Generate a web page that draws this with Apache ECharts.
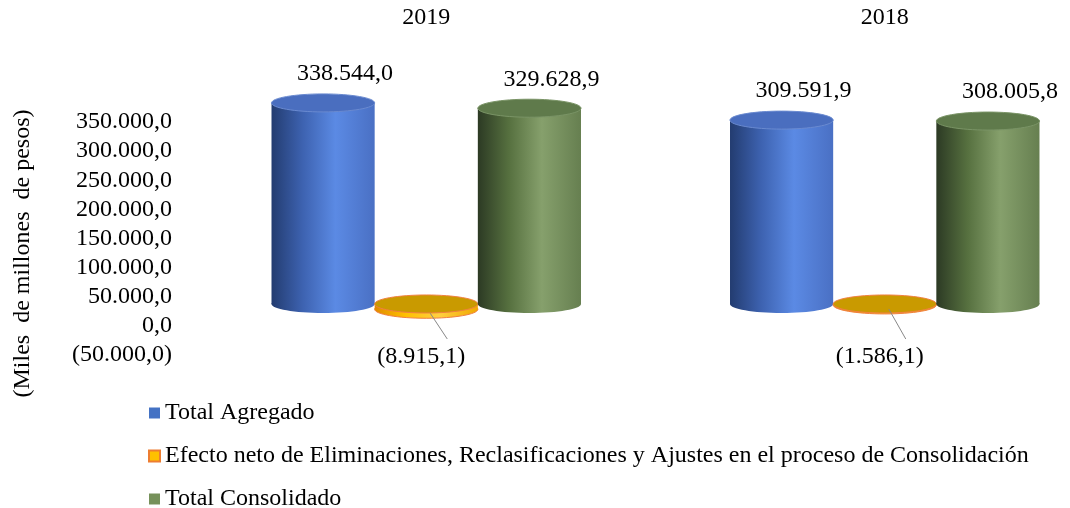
<!DOCTYPE html>
<html>
<head>
<meta charset="utf-8">
<script src="https://cdn.jsdelivr.net/npm/echarts@6/dist/echarts.min.js"></script>
<style>
  html, body { margin: 0; padding: 0; background: #fff; }
  #chart { width: 1070px; height: 508px; }
</style>
</head>
<body>
<div id="chart"></div>
<script>
// datos del gráfico
const categories = ['2019', '2018']
const totalAgregado = [338544.0, 309591.9]
const efectoNeto = [-8915.1, -1586.1]
const totalConsolidado = [329628.9, 308005.8]
const seriesNames = [
  'Total Agregado',
  'Efecto neto de Eliminaciones, Reclasificaciones y Ajustes en el proceso de Consolidación',
  'Total Consolidado'
]
const yTicks = { min: -50000, max: 350000, interval: 50000 }

const FONT = 'Liberation Serif'
const FS = 24

// formato es-CO: 338.544,0 y negativos entre paréntesis
function fmt(v) {
  const parts = Math.abs(v).toFixed(1).split('.')
  const ent = parts[0].replace(/\B(?=(\d{3})+(?!\d))/g, '.')
  const txt = ent + ',' + parts[1]
  return v < 0 ? '(' + txt + ')' : txt
}

// colores de cada cilindro
const palettes = [
  { side: ['#233c70', '#3d62b0', '#5b8ae4', '#4a70c4'], top: '#4a6ebf', topStroke: '#6a8ad0', legend: '#4472C4' },
  { side: ['#e08a00', '#ffc000', '#ffd040', '#f0a800'], top: '#c99a00', topStroke: '#f08040', legend: '#FFC000' },
  { side: ['#2c3a24', '#56703f', '#86a06c', '#667f50'], top: '#5f7a4b', topStroke: '#7a9466', legend: '#76915A' }
]

function sideGradient(cols) {
  return new echarts.graphic.LinearGradient(0, 0, 1, 0, [
    { offset: 0, color: cols[0] },
    { offset: 0.3, color: cols[1] },
    { offset: 0.62, color: cols[2] },
    { offset: 1, color: cols[3] }
  ])
}

function makeRender(idx) {
  const pal = palettes[idx]
  return function (params, api) {
    const cat = api.value(0)
    const v = api.value(1)
    const band = api.size([1, 0])[0]
    const w = band * 0.225
    const base = api.coord([cat, 0])
    const cx = base[0] + (idx - 1) * w
    const y0 = base[1]
    const y1 = api.coord([cat, v])[1]
    const top = Math.min(y0, y1)
    const bottom = Math.max(y0, y1)
    const ry = 9
    const fill = sideGradient(pal.side)
    const children = [
      { type: 'ellipse', shape: { cx: cx, cy: bottom, rx: w / 2, ry: ry }, style: { fill: fill, stroke: idx === 1 ? '#f08040' : null, lineWidth: 1 } },
      { type: 'rect', shape: { x: cx - w / 2, y: top, width: w, height: bottom - top }, style: { fill: fill } },
      { type: 'ellipse', shape: { cx: cx, cy: top, rx: w / 2, ry: ry }, style: { fill: pal.top, stroke: pal.topStroke, lineWidth: 1 } }
    ]
    if (v >= 0) {
      children.push({
        type: 'text',
        style: { x: cx + 22, y: y1 - 29, text: fmt(v), fill: '#000', font: FS + 'px ' + FONT, align: 'center', verticalAlign: 'middle' }
      })
    } else {
      children.push({
        type: 'line',
        shape: { x1: cx + 4, y1: bottom + 4, x2: cx + 21, y2: y0 + 35 },
        style: { stroke: '#888', lineWidth: 1 }
      })
      children.push({
        type: 'text',
        style: { x: cx - 5, y: y0 + 53, text: fmt(v), fill: '#000', font: FS + 'px ' + FONT, align: 'center', verticalAlign: 'middle' }
      })
    }
    return { type: 'group', children: children }
  }
}

const seriesData = [totalAgregado, efectoNeto, totalConsolidado]

const chart = echarts.init(document.getElementById('chart'), null, { renderer: 'canvas' })
chart.setOption({
  animation: false,
  backgroundColor: '#fff',
  textStyle: { fontFamily: FONT },
  grid: { left: 197, top: 122, width: 917, height: 233, containLabel: false, outerBoundsMode: 'none' },
  legend: {
    orient: 'vertical',
    left: 143,
    top: 396,
    height: 140,
    itemWidth: 11,
    itemHeight: 11,
    itemGap: 19,
    icon: 'rect',
    textStyle: { fontSize: FS, fontFamily: FONT, color: '#000' },
    data: seriesNames
  },
  xAxis: {
    type: 'category',
    position: 'top',
    data: categories,
    axisLine: { show: false },
    axisTick: { show: false },
    axisLabel: { fontSize: FS, fontFamily: FONT, color: '#000', margin: 92 }
  },
  yAxis: [
    {
      type: 'value',
      min: yTicks.min,
      max: yTicks.max,
      interval: yTicks.interval,
      name: '(Miles  de millones  de pesos)',
      nameLocation: 'middle',
      nameGap: 162,
      nameRotate: 90,
      nameTextStyle: { fontSize: FS, fontFamily: FONT, color: '#000', padding: [0, 30, 0, 0] },
      axisLine: { show: false },
      axisTick: { show: false },
      splitLine: { show: false },
      axisLabel: { fontSize: FS, fontFamily: FONT, color: '#000', margin: 25, formatter: fmt }
    },
    {
      // eje oculto con la escala de los cilindros (base en perspectiva)
      type: 'value',
      show: false,
      min: -85900,
      max: 306400,
      splitLine: { show: false }
    }
  ],
  series: seriesData.map((vals, i) => ({
    name: seriesNames[i],
    type: 'custom',
    yAxisIndex: 1,
    clip: false,
    itemStyle: i === 1
      ? { color: palettes[i].legend, borderColor: '#ED7D31', borderWidth: 1 }
      : { color: palettes[i].legend },
    renderItem: makeRender(i),
    encode: { x: 0, y: 1 },
    data: vals.map((v, k) => [k, v])
  }))
})
</script>
</body>
</html>
